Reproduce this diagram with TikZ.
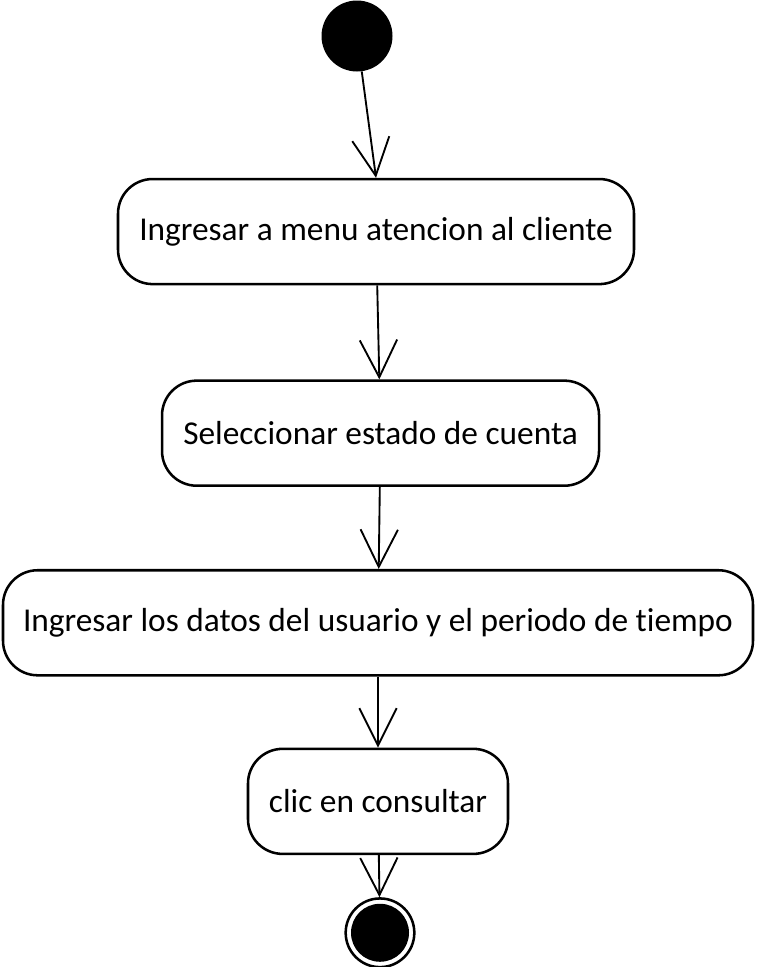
\documentclass[tikz,border=0pt]{standalone}
\usepackage{fontspec}
\setmainfont{Carlito}[Ligatures=NoCommon]
\usetikzlibrary{positioning,arrows.meta}

\tikzset{
  act/.style={draw, line width=1.9pt, rounded corners=26pt, minimum height=78.8pt,
    font=\fontsize{25}{30}\selectfont},
  flow/.style={-{Straight Barb[length=28pt,width=28pt,line width=1.4pt]}, line width=1.4pt},
}

\begin{document}
\begin{tikzpicture}
        \useasboundingbox (0pt,0pt) rectangle (567.75pt,-725.25pt);
        \node [circle, fill=black, minimum size=53.25pt, inner sep=0pt] (start) at (267.75pt,-27pt) {};
        \node [act, minimum width=387pt, below=79.5pt of start, xshift=14.25pt] (menu) {Ingresar a menu atencion al cliente};
        \node [act, minimum width=327.75pt, below=70.5pt of menu, xshift=3.4pt] (estado) {Seleccionar estado de cuenta};
        \node [act, minimum width=562.5pt, below=61.5pt of estado, xshift=-1.9pt] (datos) {Ingresar los datos del usuario y el periodo de tiempo};
        \node [act, minimum width=195pt, below=53.25pt of datos] (consultar) {clic en consultar};
        \node [circle, draw, line width=1.9pt, minimum size=51.5pt, inner sep=0pt, below=31.5pt of consultar, xshift=1.5pt,
               path picture={\fill (path picture bounding box.center) circle (21.75pt);}] (fin) {};

        \draw [flow] (start) -- (menu.north);
        \draw [flow] (menu) -- (estado);
        \draw [flow] (estado) -- (datos);
        \draw [flow] (datos) -- (consultar);
        \draw [flow] (consultar) -- (fin);
    \end{tikzpicture}
\end{document}
